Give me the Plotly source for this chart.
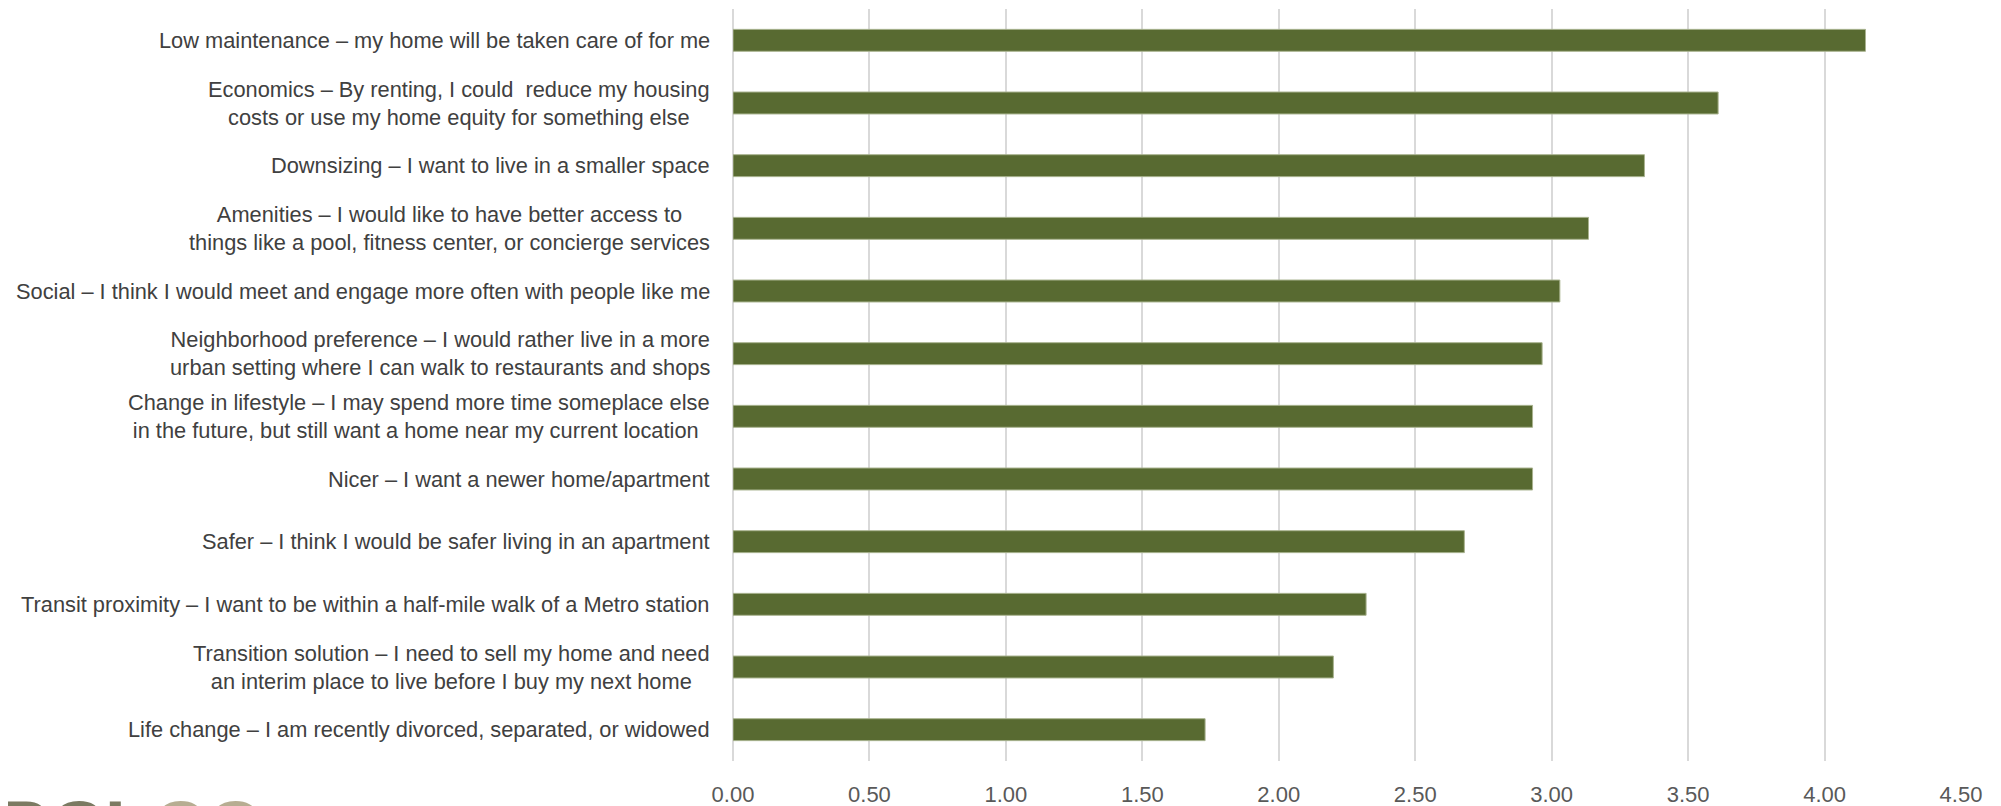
import plotly.graph_objects as go

categories = [
    "Low maintenance – my home will be taken care of for me",
    "Economics – By renting, I could \u00a0reduce my housing<br>costs or use my home equity for something else",
    "Downsizing – I want to live in a smaller space",
    "Amenities – I would like to have better access to<br>things like a pool, fitness center, or concierge services",
    "Social – I think I would meet and engage more often with people like me",
    "Neighborhood preference – I would rather live in a more<br>urban setting where I can walk to restaurants and shops",
    "Change in lifestyle – I may spend more time someplace else<br>in the future, but still want a home near my current location\u00a0",
    "Nicer – I want a newer home/apartment",
    "Safer – I think I would be safer living in an apartment",
    "Transit proximity – I want to be within a half-mile walk of a Metro station",
    "Transition solution – I need to sell my home and need<br>an interim place to live before I buy my next home",
    "Life change – I am recently divorced, separated, or widowed",
]
values = [4.15, 3.61, 3.34, 3.135, 3.03, 2.965, 2.93, 2.93, 2.68, 2.32, 2.20, 1.73]
x_ticks = [0, 0.5, 1.0, 1.5, 2.0, 2.5, 3.0, 3.5, 4.0, 4.5]
x_tick_labels = ["0.00", "0.50", "1.00", "1.50", "2.00", "2.50", "3.00", "3.50", "4.00", "4.50"]

FONT = "Liberation Sans, Arial, sans-serif"
LABEL_SIZE = 21.8
ids = list(range(len(categories)))

fig = go.Figure()
fig.add_trace(go.Bar(
    x=values, y=ids, orientation="h",
    marker=dict(color="#586a31", line=dict(color="#a9b38f", width=1)),
    width=0.35, hoverinfo="x",
))

for i, c in zip(ids, categories):
    fig.add_annotation(
        x=0, xref="paper", y=i, yref="y", text=c, showarrow=False,
        xanchor="right", yanchor="middle", align="center", xshift=-21,
        font=dict(family=FONT, size=LABEL_SIZE, color="#404040"),
    )

# partial logo at bottom-left (cut off by the page edge, as in the reference)
fig.add_annotation(
    x=0, xref="paper", y=0, yref="paper", xanchor="left", yanchor="top",
    xshift=-740, yshift=-22, showarrow=False,
    text="<b>RCL</b><span style='color:#b7ad92'>CO</span>",
    font=dict(family="Liberation Sans, Arial, sans-serif", size=76, color="#7b7a62"),
)

fig.update_layout(
    width=2001, height=806,
    margin=dict(l=725, r=48, t=1, b=53),
    paper_bgcolor="white", plot_bgcolor="white",
    showlegend=False,
    font=dict(family=FONT, size=LABEL_SIZE, color="#595959"),
)
fig.update_xaxes(
    range=[0, 4.5], tickvals=x_ticks, ticktext=x_tick_labels,
    showgrid=True, gridcolor="#d9d9d9", gridwidth=1.5,
    zeroline=True, zerolinecolor="#d9d9d9", zerolinewidth=1.5,
    showline=False, ticks="", ticklabelstandoff=18,
    tickfont=dict(family=FONT, size=22, color="#595959"),
)
fig.update_yaxes(
    range=[11.5, -0.5], showticklabels=False, showgrid=False,
    zeroline=False, showline=False, ticks="",
)

fig.write_html("out.html")
